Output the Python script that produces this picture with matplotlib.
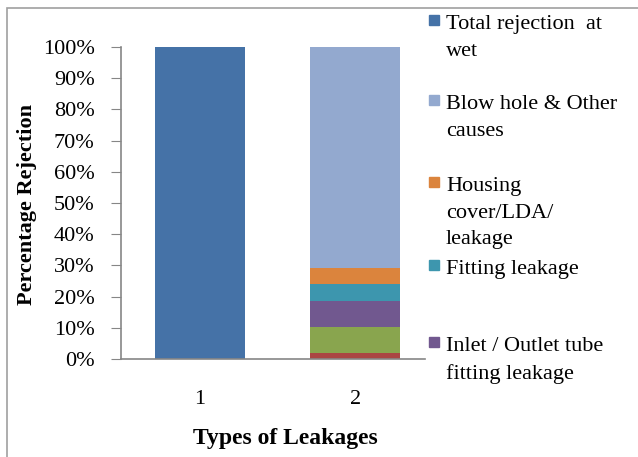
import matplotlib
matplotlib.use("Agg")
import matplotlib.pyplot as plt
from matplotlib.patches import Rectangle
from matplotlib.ticker import PercentFormatter

plt.rcParams["font.family"] = ["Liberation Serif", "DejaVu Serif"]

# data (percent of rejection), stacked bottom to top
categories = ["1", "2"]
series_names = [
    "Total rejection at wet",
    "red segment",
    "green segment",
    "Inlet / Outlet tube fitting leakage",
    "Fitting leakage",
    "Housing cover/LDA/ leakage",
    "Blow hole & Other causes",
]
series_values = [
    [100, 0],
    [0, 2.0],
    [0, 8.3],
    [0, 8.4],
    [0, 5.2],
    [0, 5.3],
    [0, 70.8],
]
series_colors = ["#4572A7", "#AA4643", "#89A54E", "#71588F", "#3D96AE", "#DB843D", "#93A9CF"]

# legend as it shows in the picture (rest is cut off at the bottom)
legend_labels = [
    "Total rejection  at\nwet",
    "Blow hole & Other\ncauses",
    "Housing\ncover/LDA/\nleakage",
    "Fitting leakage",
    "Inlet / Outlet tube\nfitting leakage",
]
legend_colors = ["#4572A7", "#93A9CF", "#DB843D", "#3D96AE", "#71588F"]

W, H = 638, 457
fig = plt.figure(figsize=(W / 100, H / 100), dpi=100)

# chart area frame, only top and left edges visible
fig.patches.append(Rectangle((7 / W, -1), 2, 1 + (H - 8) / H, transform=fig.transFigure,
                             fill=False, edgecolor="#a0a0a0", linewidth=1.2))

ax = fig.add_axes([121 / W, (H - 359) / H, (425 - 121) / W, (359 - 47) / H])
x = [1, 2]
bottom = [0, 0]
for vals, color in zip(series_values, series_colors):
    ax.bar(x, vals, width=0.58, bottom=bottom, color=color, edgecolor="none")
    bottom = [b + v for b, v in zip(bottom, vals)]

ax.set_xlim(0.49, 2.45)
ax.set_ylim(0, 100)
ax.set_yticks(range(0, 101, 10))
ax.yaxis.set_major_formatter(PercentFormatter(decimals=0))
ax.set_xticks(x)
ax.set_xticklabels(categories)
for s in ["top", "right"]:
    ax.spines[s].set_visible(False)
for s in ["left", "bottom"]:
    ax.spines[s].set_color("#868686")
    ax.spines[s].set_linewidth(1.2)
ax.tick_params(axis="y", length=7, color="#868686", labelsize=16, pad=12)
ax.tick_params(axis="x", length=0, labelsize=16, pad=22)
ax.set_xlabel("Types of Leakages", fontsize=17, fontweight="bold")
ax.xaxis.set_label_coords(0.54, -0.22)
ax.set_ylabel("Percentage Rejection", fontsize=16, fontweight="bold")
ax.yaxis.set_label_coords(-0.275, 0.495)

# legend drawn by hand to keep the even entry spacing
marker_y = [20, 100, 182, 265, 342]
for label, color, my in zip(legend_labels, legend_colors, marker_y):
    fig.patches.append(Rectangle((429 / W, 1 - (my + 5) / H), 10 / W, 10 / H,
                                 transform=fig.transFigure, color=color))
    fig.text(446 / W, 1 - (my - 5) / H, label, fontsize=16, va="top", ha="left",
             linespacing=1.55)

fig.savefig("out.png", dpi=100)
